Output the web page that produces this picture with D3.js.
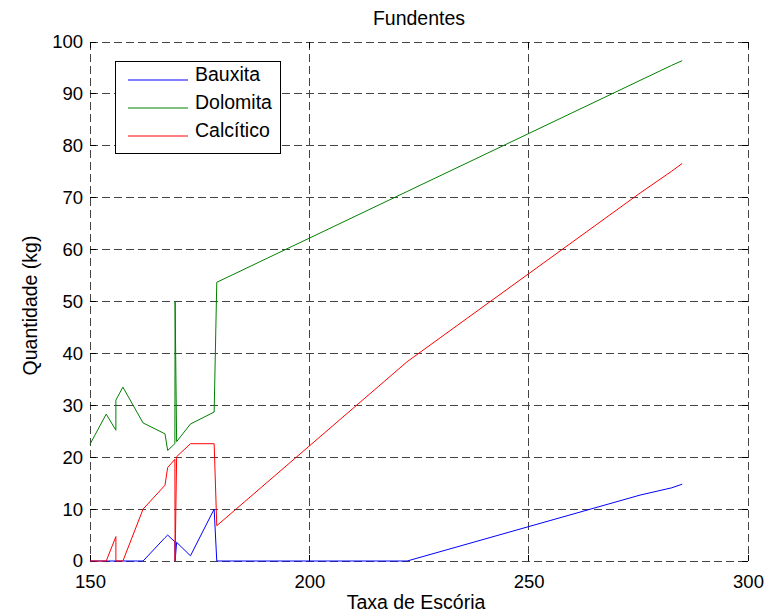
<!DOCTYPE html>
<html>
<head>
<meta charset="utf-8">
<script src="https://cdn.jsdelivr.net/npm/d3@7"></script>
<style>
  html, body { margin: 0; padding: 0; background: #fff; }
  svg { display: block; font-family: "Liberation Sans", Arial, Helvetica, sans-serif; }
</style>
</head>
<body>
<svg id="chart" width="778" height="615"></svg>
<script>
// Slag rate (x) shared by every series
const taxaEscoria = [150, 153.7, 155.9, 155.9, 157.5, 162.1, 167.1, 167.7, 169.35, 169.4, 169.75, 172.9, 178.3, 178.9, 222.3, 275.4, 282.6, 285];
// Flux quantities (kg)
const bauxita   = [0, 0, 0, 0, 0, 0, 4.5, 5.0, 3.7, 0, 3.6, 1.0, 10.0, 0, 0, 12.7, 14.1, 14.8];
const dolomita  = [22.5, 28.3, 25.2, 31.0, 33.5, 26.6, 24.5, 21.3, 22.6, 50.0, 23.0, 26.4, 28.7, 53.7, 71.2, 92.6, 95.5, 96.4];
const calcitico = [0, 0, 4.7, 0, 0, 10.0, 14.6, 18.0, 19.6, 0, 20.1, 22.6, 22.6, 6.8, 38.4, 70.9, 75.1, 76.6];

const seriesNames = ["Bauxita", "Dolomita", "Calcítico"];
const seriesColors = ["#0000ff", "#008000", "#ff0000"];
const seriesValues = [bauxita, dolomita, calcitico];

const xTicks = [150, 200, 250, 300];
const yTicks = [0, 10, 20, 30, 40, 50, 60, 70, 80, 90, 100];

const titulo = "Fundentes";
const rotuloX = "Taxa de Escória";
const rotuloY = "Quantidade (kg)";

const svg = d3.select("#chart");
const plotLeft = 90, plotRight = 748, plotTop = 42, plotBottom = 561;

const x = d3.scaleLinear().domain([150, 300]).range([plotLeft, plotRight]);
const y = d3.scaleLinear().domain([0, 100]).range([plotBottom, plotTop]);

const tickFont = 18.5;
const labelFont = 19.5;
const gridColor = "#444";
const dash = "8,4";

// Grid lines
const grid = svg.append("g").attr("shape-rendering", "crispEdges");
grid.selectAll("line.gy").data(yTicks).join("line")
  .attr("class", "gy")
  .attr("x1", plotLeft).attr("x2", plotRight)
  .attr("y1", d => y(d)).attr("y2", d => y(d))
  .attr("stroke", gridColor).attr("stroke-width", 1).attr("stroke-dasharray", dash);
grid.selectAll("line.gx").data(xTicks).join("line")
  .attr("class", "gx")
  .attr("y1", plotTop).attr("y2", plotBottom)
  .attr("x1", d => x(d)).attr("x2", d => x(d))
  .attr("stroke", gridColor).attr("stroke-width", 1).attr("stroke-dasharray", dash);

// Axes (labels only; ticks drawn inward)
const axisLeft = d3.axisLeft(y).tickValues(yTicks).tickSize(0).tickPadding(7);
const axisBottom = d3.axisBottom(x).tickValues(xTicks).tickSize(0).tickPadding(13.5);

const gY = svg.append("g").attr("transform", `translate(${plotLeft},0)`).call(axisLeft);
const gX = svg.append("g").attr("transform", `translate(0,${plotBottom})`).call(axisBottom);
[gY, gX].forEach(g => {
  g.select(".domain").remove();
  g.selectAll("text").attr("font-size", tickFont).attr("fill", "#000")
    .attr("font-family", "'Liberation Sans', Arial, sans-serif");
});

// Inward tick marks on all four sides
const ticks = svg.append("g").attr("stroke", "#000").attr("shape-rendering", "crispEdges");
yTicks.forEach(t => {
  ticks.append("line").attr("x1", plotLeft).attr("x2", plotLeft + 6).attr("y1", y(t)).attr("y2", y(t));
  ticks.append("line").attr("x1", plotRight).attr("x2", plotRight - 6).attr("y1", y(t)).attr("y2", y(t));
});
xTicks.forEach(t => {
  ticks.append("line").attr("y1", plotBottom).attr("y2", plotBottom - 6).attr("x1", x(t)).attr("x2", x(t));
  ticks.append("line").attr("y1", plotTop).attr("y2", plotTop + 6).attr("x1", x(t)).attr("x2", x(t));
});

// Data lines
const lineGen = d3.line()
  .x((d, i) => x(taxaEscoria[i]))
  .y(d => y(d));

seriesValues.forEach((vals, k) => {
  svg.append("path")
    .datum(vals)
    .attr("d", lineGen)
    .attr("fill", "none")
    .attr("stroke", seriesColors[k])
    .attr("stroke-width", 1)
    .attr("stroke-linejoin", "miter");
});

// Title and axis labels
svg.append("text").attr("x", (plotLeft + plotRight) / 2).attr("y", 25)
  .attr("text-anchor", "middle").attr("font-size", labelFont).text(titulo);
svg.append("text").attr("x", (plotLeft + plotRight) / 2 - 3).attr("y", 609)
  .attr("text-anchor", "middle").attr("font-size", labelFont).text(rotuloX);
svg.append("text")
  .attr("transform", `translate(37,${(plotTop + plotBottom) / 2 + 4}) rotate(-90)`)
  .attr("text-anchor", "middle").attr("font-size", labelFont).text(rotuloY);

// Legend
const legend = svg.append("g");
legend.append("rect")
  .attr("x", 115.5).attr("y", 61.5).attr("width", 165).attr("height", 92)
  .attr("fill", "#fff").attr("stroke", "#000").attr("stroke-width", 1)
  .attr("shape-rendering", "crispEdges");
legend.selectAll("path.amostra").data(seriesNames).join("path")
  .attr("class", "amostra")
  .attr("d", (d, k) => `M128,${80 + k * 28}H188`)
  .attr("fill", "none")
  .attr("stroke", (d, k) => seriesColors[k])
  .attr("stroke-width", 1);
legend.selectAll("text.nome").data(seriesNames).join("text")
  .attr("class", "nome")
  .attr("x", 195).attr("y", (d, k) => 81 + k * 28)
  .attr("font-size", labelFont).text(d => d);
</script>
</body>
</html>
